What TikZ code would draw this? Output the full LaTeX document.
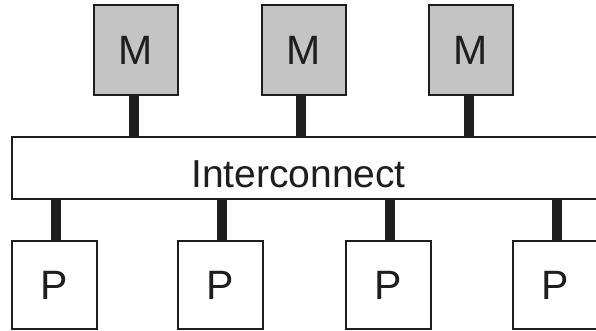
\documentclass[tikz,border=0pt]{standalone}
\usepackage{fontspec}
\setmainfont{Liberation Sans}
\definecolor{mgray}{RGB}{196,196,196}
\definecolor{ink}{RGB}{30,30,30}
\begin{document}
\begin{tikzpicture}[x=1pt,y=-1pt,
  box/.style={draw=ink,line width=2pt,inner sep=0pt,text=ink,font=\fontsize{41}{41}\selectfont},
  mbox/.style={box,fill=mgray,minimum width=84pt,minimum height=90pt},
  pbox/.style={box,fill=white,minimum width=85pt,minimum height=88pt},
  icbox/.style={draw=ink,line width=2pt,fill=white,inner sep=0pt,minimum width=608pt,minimum height=62pt},
  bus/.style={draw=ink,line width=10pt}]
\useasboundingbox (0,0) rectangle (596,331);
\clip (0,0) rectangle (596,331);
% memory modules
\node[mbox] (m1) at (136,50) {M};
\node[mbox] (m2) at (303.5,50) {M};
\node[mbox] (m3) at (471,50) {M};
% interconnect
\node[icbox] (ic) at (316,168) {};
\node[text=ink,font=\fontsize{39}{39}\selectfont,anchor=base,inner sep=0pt] (iclabel) at (298.5,187) {Interconnect};
% processors
\node[pbox] (p1) at (54,285) {P};
\node[pbox] (p2) at (220.5,285) {P};
\node[pbox] (p3) at (388,285) {P};
\node[pbox] (p4) at (555.5,285) {P};
% connectors
\foreach \m in {m1,m2,m3}
  \draw[bus] ([xshift=-2.5pt]\m.south) -- ([xshift=-2.5pt]\m.south |- ic.north);
\foreach \p in {p1,p2,p3,p4}
  \draw[bus] ([xshift=1.5pt]\p.north) -- ([xshift=1.5pt]\p.north |- ic.south);
\end{tikzpicture}
\end{document}
